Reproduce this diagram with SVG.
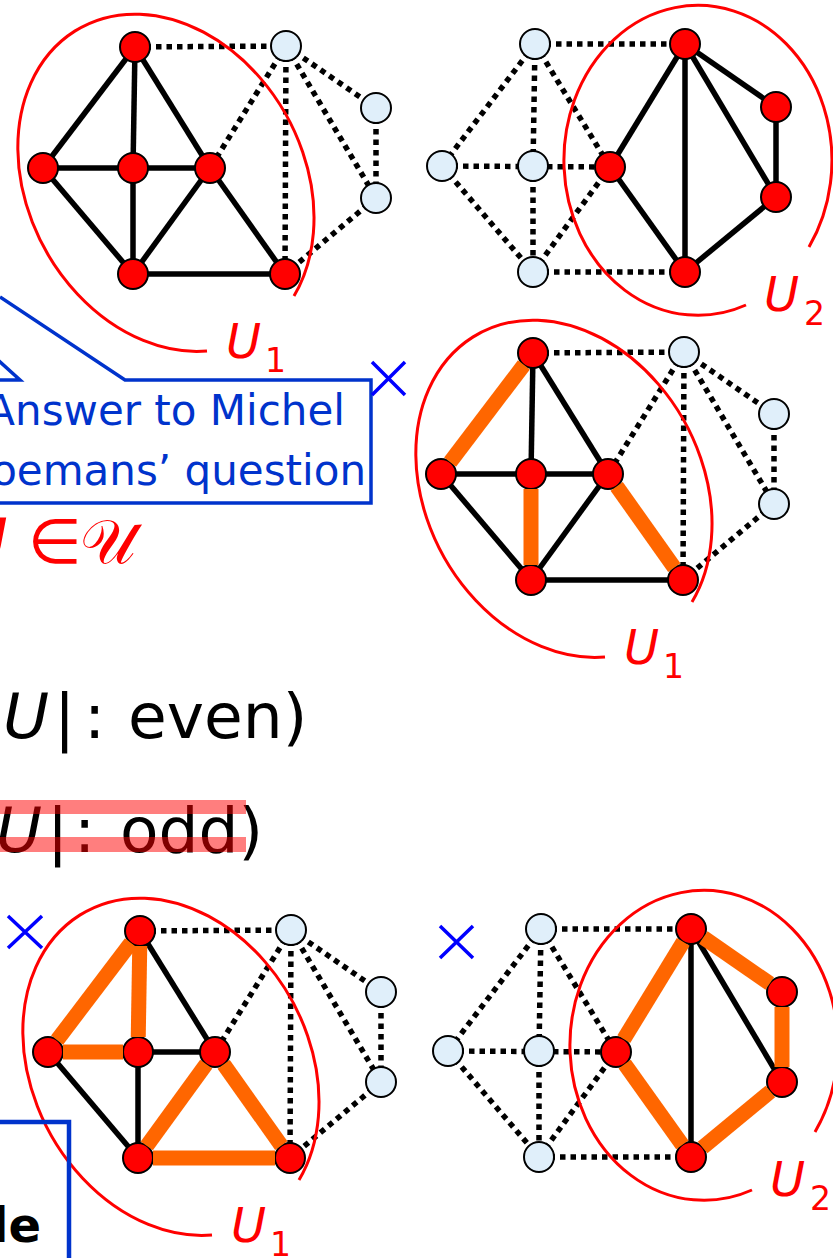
<svg xmlns="http://www.w3.org/2000/svg" width="833" height="1258" viewBox="0 0 833 1258">
<style>
.e{stroke:#000;stroke-width:5.5;fill:none}
.d{stroke:#000;stroke-width:5.5;stroke-dasharray:5.5 5;fill:none}
.o{stroke:#ff6600;stroke-width:15;fill:none}
.r{fill:#ff0000;stroke:#000;stroke-width:2}
.l{fill:#e0effa;stroke:#000;stroke-width:2}
.u{fill:none;stroke:#ff0000;stroke-width:3}
.x{stroke:#0000ff;stroke-width:3.5;fill:none}
.lab{font-family:"DejaVu Sans",sans-serif;font-style:italic;font-size:48px;fill:#ff0000}
.sub{font-family:"DejaVu Sans",sans-serif;font-size:33px;fill:#ff0000}
.big{font-family:"DejaVu Sans",sans-serif;font-size:63px;fill:#000}
.call{font-family:"DejaVu Sans",sans-serif;font-size:42px;fill:#0033cc}
</style>
<rect width="833" height="1258" fill="#fff"/>

<!-- Graph 1 (top-left) -->
<g id="graph1">
  <g id="graph1-connectors">
    <line class="e" x1="135" y1="47" x2="43" y2="168"/>
    <line class="e" x1="135" y1="47" x2="133" y2="168"/>
    <line class="e" x1="135" y1="47" x2="210" y2="168"/>
    <line class="e" x1="43" y1="168" x2="210" y2="168"/>
    <line class="e" x1="43" y1="168" x2="133" y2="274"/>
    <line class="e" x1="133" y1="168" x2="133" y2="274"/>
    <line class="e" x1="210" y1="168" x2="133" y2="274"/>
    <line class="e" x1="210" y1="168" x2="285" y2="274"/>
    <line class="e" x1="133" y1="274" x2="285" y2="274"/>
    <line class="d" x1="135" y1="47" x2="286" y2="46"/>
    <line class="d" x1="286" y1="46" x2="210" y2="168"/>
    <line class="d" x1="286" y1="46" x2="285" y2="274"/>
    <line class="d" x1="286" y1="46" x2="376" y2="108"/>
    <line class="d" x1="286" y1="46" x2="376" y2="198"/>
    <line class="d" x1="376" y1="108" x2="376" y2="198"/>
    <line class="d" x1="376" y1="198" x2="285" y2="274"/>
  </g>
  <path id="graph1-U1" class="u" d="M 294 296 A 177 138 61 1 0 207 351"/>
  <g id="g1-A"><circle class="r" cx="135" cy="47" r="15"/></g>
  <g id="g1-B"><circle class="r" cx="43" cy="168" r="15"/></g>
  <g id="g1-C"><circle class="r" cx="133" cy="168" r="15"/></g>
  <g id="g1-D"><circle class="r" cx="210" cy="168" r="15"/></g>
  <g id="g1-E"><circle class="r" cx="133" cy="274" r="15"/></g>
  <g id="g1-F"><circle class="r" cx="285" cy="274" r="15"/></g>
  <g id="g1-P"><circle class="l" cx="286" cy="46" r="15"/></g>
  <g id="g1-Q"><circle class="l" cx="376" cy="108" r="15"/></g>
  <g id="g1-R"><circle class="l" cx="376" cy="198" r="15"/></g>
  <text class="lab" x="226" y="358">U</text><text class="sub" x="265" y="372">1</text>
</g>

<!-- Graph 2 (top-right) -->
<g id="graph2">
  <g id="graph2-connectors">
    <line class="e" x1="610" y1="167" x2="685" y2="44"/>
    <line class="e" x1="610" y1="167" x2="685" y2="272"/>
    <line class="e" x1="685" y1="44" x2="685" y2="272"/>
    <line class="e" x1="685" y1="44" x2="776" y2="107"/>
    <line class="e" x1="685" y1="44" x2="776" y2="197"/>
    <line class="e" x1="776" y1="107" x2="776" y2="197"/>
    <line class="e" x1="776" y1="197" x2="685" y2="272"/>
    <line class="d" x1="535" y1="44" x2="685" y2="44"/>
    <line class="d" x1="535" y1="44" x2="442" y2="166"/>
    <line class="d" x1="535" y1="44" x2="533" y2="166"/>
    <line class="d" x1="535" y1="44" x2="610" y2="167"/>
    <line class="d" x1="442" y1="166" x2="610" y2="167"/>
    <line class="d" x1="442" y1="166" x2="533" y2="272"/>
    <line class="d" x1="533" y1="166" x2="533" y2="272"/>
    <line class="d" x1="533" y1="272" x2="610" y2="167"/>
    <line class="d" x1="533" y1="272" x2="685" y2="272"/>
  </g>
  <path id="graph2-U2" class="u" d="M 809 247 A 134 155 0 1 0 746 305"/>
  <g id="g2-a"><circle class="l" cx="535" cy="44" r="15"/></g>
  <g id="g2-b"><circle class="l" cx="442" cy="166" r="15"/></g>
  <g id="g2-c"><circle class="l" cx="533" cy="166" r="15"/></g>
  <g id="g2-d"><circle class="l" cx="533" cy="272" r="15"/></g>
  <g id="g2-e"><circle class="r" cx="610" cy="167" r="15"/></g>
  <g id="g2-f"><circle class="r" cx="685" cy="44" r="15"/></g>
  <g id="g2-g"><circle class="r" cx="776" cy="107" r="15"/></g>
  <g id="g2-h"><circle class="r" cx="776" cy="197" r="15"/></g>
  <g id="g2-i"><circle class="r" cx="685" cy="272" r="15"/></g>
  <text class="lab" x="764" y="311">U</text><text class="sub" x="804" y="325">2</text>
</g>

<!-- Graph 3 (middle-right) -->
<g id="graph3" transform="translate(398,306)">
  <g id="graph3-connectors">
    <line class="e" x1="135" y1="47" x2="133" y2="168"/>
    <line class="e" x1="135" y1="47" x2="210" y2="168"/>
    <line class="e" x1="43" y1="168" x2="210" y2="168"/>
    <line class="e" x1="43" y1="168" x2="133" y2="274"/>
    <line class="e" x1="210" y1="168" x2="133" y2="274"/>
    <line class="e" x1="133" y1="274" x2="285" y2="274"/>
    <line class="d" x1="135" y1="47" x2="286" y2="46"/>
    <line class="d" x1="286" y1="46" x2="210" y2="168"/>
    <line class="d" x1="286" y1="46" x2="285" y2="274"/>
    <line class="d" x1="286" y1="46" x2="376" y2="108"/>
    <line class="d" x1="286" y1="46" x2="376" y2="198"/>
    <line class="d" x1="376" y1="108" x2="376" y2="198"/>
    <line class="d" x1="376" y1="198" x2="285" y2="274"/>
  </g>
  <path id="graph3-U1" class="u" d="M 294 296 A 177 138 61 1 0 207 351"/>
  <g id="g3-A"><circle class="r" cx="135" cy="47" r="15"/></g>
  <g id="g3-B"><circle class="r" cx="43" cy="168" r="15"/></g>
  <g id="g3-C"><circle class="r" cx="133" cy="168" r="15"/></g>
  <g id="g3-D"><circle class="r" cx="210" cy="168" r="15"/></g>
  <g id="g3-E"><circle class="r" cx="133" cy="274" r="15"/></g>
  <g id="g3-F"><circle class="r" cx="285" cy="274" r="15"/></g>
  <g id="g3-P"><circle class="l" cx="286" cy="46" r="15"/></g>
  <g id="g3-Q"><circle class="l" cx="376" cy="108" r="15"/></g>
  <g id="g3-R"><circle class="l" cx="376" cy="198" r="15"/></g>
  <g id="graph3-matching">
    <line class="o" x1="125.9" y1="58.9" x2="52.1" y2="156.1"/>
    <line class="o" x1="133" y1="183" x2="133" y2="259"/>
    <line class="o" x1="218.7" y1="180.3" x2="276.3" y2="261.7"/>
  </g>
  <text class="lab" x="226" y="358">U</text><text class="sub" x="265" y="372">1</text>
</g>

<!-- Graph 4 (bottom-left) -->
<g id="graph4" transform="translate(5,884)">
  <g id="graph4-connectors">
    <line class="e" x1="135" y1="47" x2="210" y2="168"/>
    <line class="e" x1="133" y1="168" x2="210" y2="168"/>
    <line class="e" x1="43" y1="168" x2="133" y2="274"/>
    <line class="e" x1="133" y1="168" x2="133" y2="274"/>
    <line class="d" x1="135" y1="47" x2="286" y2="46"/>
    <line class="d" x1="286" y1="46" x2="210" y2="168"/>
    <line class="d" x1="286" y1="46" x2="285" y2="274"/>
    <line class="d" x1="286" y1="46" x2="376" y2="108"/>
    <line class="d" x1="286" y1="46" x2="376" y2="198"/>
    <line class="d" x1="376" y1="108" x2="376" y2="198"/>
    <line class="d" x1="376" y1="198" x2="285" y2="274"/>
  </g>
  <path id="graph4-U1" class="u" d="M 294 296 A 177 138 61 1 0 207 351"/>
  <g id="g4-A"><circle class="r" cx="135" cy="47" r="15"/></g>
  <g id="g4-B"><circle class="r" cx="43" cy="168" r="15"/></g>
  <g id="g4-C"><circle class="r" cx="133" cy="168" r="15"/></g>
  <g id="g4-D"><circle class="r" cx="210" cy="168" r="15"/></g>
  <g id="g4-E"><circle class="r" cx="133" cy="274" r="15"/></g>
  <g id="g4-F"><circle class="r" cx="285" cy="274" r="15"/></g>
  <g id="g4-P"><circle class="l" cx="286" cy="46" r="15"/></g>
  <g id="g4-Q"><circle class="l" cx="376" cy="108" r="15"/></g>
  <g id="g4-R"><circle class="l" cx="376" cy="198" r="15"/></g>
  <g id="graph4-cycles">
    <line class="o" x1="125.9" y1="58.9" x2="52.1" y2="156.1"/>
    <line class="o" x1="134.75" y1="62" x2="133.25" y2="153"/>
    <line class="o" x1="58" y1="168" x2="118" y2="168"/>
    <line class="o" x1="141.8" y1="261.9" x2="201.2" y2="180.1"/>
    <line class="o" x1="218.7" y1="180.3" x2="276.3" y2="261.7"/>
    <line class="o" x1="148" y1="274" x2="270" y2="274"/>
  </g>
  <text class="lab" x="226" y="358">U</text><text class="sub" x="265" y="372">1</text>
</g>

<!-- Graph 5 (bottom-right) -->
<g id="graph5" transform="translate(6,885)">
  <g id="graph5-connectors">
    <line class="e" x1="685" y1="44" x2="685" y2="272"/>
    <line class="e" x1="685" y1="44" x2="776" y2="197"/>
    <line class="d" x1="535" y1="44" x2="685" y2="44"/>
    <line class="d" x1="535" y1="44" x2="442" y2="166"/>
    <line class="d" x1="535" y1="44" x2="533" y2="166"/>
    <line class="d" x1="535" y1="44" x2="610" y2="167"/>
    <line class="d" x1="442" y1="166" x2="610" y2="167"/>
    <line class="d" x1="442" y1="166" x2="533" y2="272"/>
    <line class="d" x1="533" y1="166" x2="533" y2="272"/>
    <line class="d" x1="533" y1="272" x2="610" y2="167"/>
    <line class="d" x1="533" y1="272" x2="685" y2="272"/>
  </g>
  <path id="graph5-U2" class="u" d="M 809 247 A 134 155 0 1 0 746 305"/>
  <g id="g5-a"><circle class="l" cx="535" cy="44" r="15"/></g>
  <g id="g5-b"><circle class="l" cx="442" cy="166" r="15"/></g>
  <g id="g5-c"><circle class="l" cx="533" cy="166" r="15"/></g>
  <g id="g5-d"><circle class="l" cx="533" cy="272" r="15"/></g>
  <g id="g5-e"><circle class="r" cx="610" cy="167" r="15"/></g>
  <g id="g5-f"><circle class="r" cx="685" cy="44" r="15"/></g>
  <g id="g5-g"><circle class="r" cx="776" cy="107" r="15"/></g>
  <g id="g5-h"><circle class="r" cx="776" cy="197" r="15"/></g>
  <g id="g5-i"><circle class="r" cx="685" cy="272" r="15"/></g>
  <g id="graph5-cycle">
    <line class="o" x1="617.8" y1="154.2" x2="677.2" y2="56.8"/>
    <line class="o" x1="697.3" y1="52.5" x2="763.7" y2="98.5"/>
    <line class="o" x1="776" y1="122" x2="776" y2="182"/>
    <line class="o" x1="764.4" y1="206.5" x2="696.6" y2="262.5"/>
    <line class="o" x1="676.3" y1="259.8" x2="618.7" y2="179.2"/>
  </g>
  <text class="lab" x="764" y="311">U</text><text class="sub" x="804" y="325">2</text>
</g>

<!-- Callout -->
<g id="callout">
  <path d="M -20 380 L 20 380 L -275 114 M 0 297 L 125 380 L 371 380 L 371 503 L -20 503" fill="none" stroke="#0033cc" stroke-width="3.5" stroke-linejoin="miter"/>
  <text class="call" x="345" y="425" text-anchor="end">Answer to Michel</text>
  <text class="call" x="366" y="485" text-anchor="end">oemans’ question</text>
</g>

<!-- Blue crosses -->
<g id="crosses">
  <path class="x" d="M 372 362 L 405 395 M 405 362 L 372 395"/>
  <path class="x" d="M 8 916 L 42 948 M 42 916 L 8 948"/>
  <path class="x" d="M 440 926 L 473 958 M 473 926 L 440 958"/>
</g>

<!-- Formula text -->
<text id="u-in-family" font-family="DejaVu Sans, sans-serif" font-size="62" fill="#ff0000" y="563"><tspan x="-38" font-style="italic">U</tspan><tspan x="28">∈</tspan><tspan x="80">𝒰</tspan></text>

<text class="big" y="738"><tspan x="3" font-style="italic">U</tspan><tspan x="54">|</tspan><tspan x="84">:</tspan><tspan x="128">even)</tspan></text>
<text class="big" y="852"><tspan x="-4" font-style="italic">U</tspan><tspan x="47">|</tspan><tspan x="74">:</tspan><tspan x="120">odd)</tspan></text>
<g id="strike" fill="#ff0000" opacity="0.5">
  <rect x="0" y="800" width="246" height="14"/>
  <rect x="0" y="837" width="246" height="15"/>
</g>

<!-- Bottom-left box -->
<g id="box">
  <path d="M -10 1122 L 69 1122 L 69 1270" fill="none" stroke="#0033cc" stroke-width="4.5"/>
  <text x="41" y="1242" text-anchor="end" font-family="DejaVu Sans, sans-serif" font-weight="bold" font-size="48" fill="#000">le</text>
</g>
</svg>
